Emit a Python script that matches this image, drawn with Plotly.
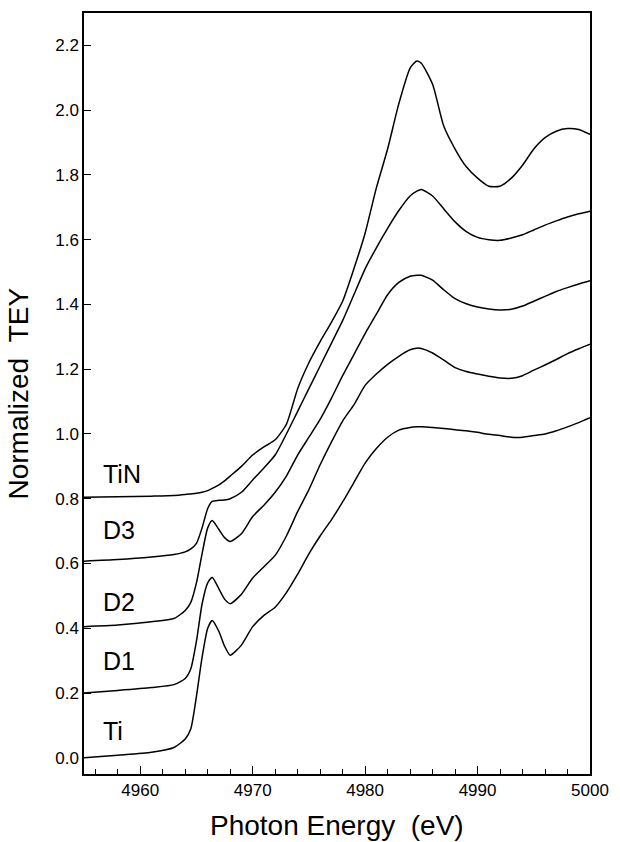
import plotly.graph_objects as go

energy = [4955, 4958, 4961, 4963, 4964, 4964.5, 4965, 4965.5, 4966, 4966.4, 4967, 4967.5,
          4968, 4969, 4970, 4971, 4972, 4973, 4974, 4975, 4976, 4977, 4978, 4979, 4980,
          4981, 4982, 4983, 4984, 4984.6, 4985, 4986, 4987, 4988, 4989, 4990, 4991, 4992,
          4993, 4994, 4995, 4996, 4997, 4998, 4999, 5000]

ti = [0.0, 0.008, 0.017, 0.032, 0.058, 0.09, 0.19, 0.31, 0.40, 0.424, 0.39, 0.345,
      0.317, 0.348, 0.405, 0.44, 0.465, 0.51, 0.567, 0.63, 0.685, 0.735, 0.79, 0.85, 0.91,
      0.955, 0.99, 1.012, 1.02, 1.022, 1.022, 1.02, 1.017, 1.013, 1.01, 1.005, 0.999, 0.995,
      0.99, 0.99, 0.995, 1.0, 1.01, 1.022, 1.035, 1.05]

d1 = [0.2, 0.208, 0.217, 0.226, 0.245, 0.275, 0.36, 0.475, 0.54, 0.557, 0.522, 0.49,
      0.476, 0.505, 0.555, 0.59, 0.625, 0.685, 0.76, 0.828, 0.905, 0.975, 1.04, 1.09, 1.15,
      1.185, 1.215, 1.24, 1.26, 1.265, 1.264, 1.25, 1.228, 1.205, 1.193, 1.185, 1.178, 1.173,
      1.172, 1.18, 1.197, 1.213, 1.23, 1.248, 1.263, 1.277]

d2 = [0.405, 0.41, 0.42, 0.43, 0.455, 0.48, 0.54, 0.63, 0.71, 0.733, 0.705, 0.68,
      0.668, 0.692, 0.745, 0.78, 0.82, 0.87, 0.935, 0.99, 1.045, 1.11, 1.18, 1.245, 1.31,
      1.37, 1.43, 1.468, 1.487, 1.49, 1.49, 1.475, 1.445, 1.418, 1.402, 1.392, 1.386, 1.383,
      1.385, 1.395, 1.41, 1.425, 1.44, 1.452, 1.463, 1.473]

d3 = [0.607, 0.612, 0.62, 0.628, 0.636, 0.645, 0.662, 0.71, 0.77, 0.792, 0.795, 0.796,
      0.8, 0.82, 0.858, 0.895, 0.935, 1.0, 1.07, 1.14, 1.21, 1.28, 1.35, 1.43, 1.51,
      1.575, 1.635, 1.69, 1.735, 1.75, 1.755, 1.735, 1.695, 1.655, 1.625, 1.607, 1.6, 1.598,
      1.605, 1.615, 1.63, 1.645, 1.658, 1.67, 1.68, 1.688]

tin = [0.805, 0.806, 0.808, 0.81, 0.813, 0.815, 0.817, 0.82, 0.825, 0.832, 0.843, 0.855,
       0.87, 0.9, 0.935, 0.96, 0.982, 1.03, 1.14, 1.22, 1.285, 1.345, 1.41, 1.51, 1.62,
       1.76, 1.88, 2.02, 2.13, 2.152, 2.145, 2.08, 1.95, 1.88, 1.825, 1.79, 1.765, 1.765,
       1.79, 1.83, 1.88, 1.915, 1.935, 1.943, 1.94, 1.925]

series_names = ["Ti", "D1", "D2", "D3", "TiN"]
series_values = [ti, d1, d2, d3, tin]
label_y = [0.082, 0.30, 0.482, 0.704, 0.876]

FONT = "Liberation Sans, Arial, Helvetica, sans-serif"

fig = go.Figure()
for name, vals in zip(series_names, series_values):
    fig.add_trace(go.Scatter(x=energy, y=vals, mode="lines", name=name,
                             line=dict(color="black", width=1.5, shape="spline", smoothing=0.6),
                             showlegend=False))

for name, ly in zip(series_names, label_y):
    fig.add_annotation(x=4956.5, y=ly, text=name, showarrow=False, xanchor="left",
                       yanchor="middle", font=dict(family=FONT, size=25, color="black"))

fig.add_annotation(xref="paper", yref="paper", x=0, y=0.5, xshift=-66, text="Normalized\u00a0\u00a0TEY",
                   textangle=-90, showarrow=False, xanchor="center", yanchor="middle",
                   font=dict(family=FONT, size=28, color="black"))
fig.add_annotation(xref="paper", yref="paper", x=0.5, y=0, yshift=-51, text="Photon Energy\u00a0\u00a0(eV)",
                   showarrow=False, xanchor="center", yanchor="middle",
                   font=dict(family=FONT, size=28, color="black"))

fig.update_layout(
    width=620, height=842,
    margin=dict(l=84, r=20, t=11, b=68),
    plot_bgcolor="white", paper_bgcolor="white",
    font=dict(family=FONT, color="black"),
)
fig.update_xaxes(range=[4955, 5000], tickvals=[4960, 4970, 4980, 4990, 5000],
                 ticks="inside", ticklen=8, tickwidth=1.3, tickcolor="black",
                 minor=dict(dtick=2, tick0=4960, ticks="inside", ticklen=5, tickwidth=1, tickcolor="black"),
                 showline=True, linecolor="black", linewidth=1.5, mirror=True,
                 showgrid=False, zeroline=False, tickfont=dict(size=17, family=FONT, color="black"))
fig.update_yaxes(range=[-0.05, 2.3], tickvals=[0.0, 0.2, 0.4, 0.6, 0.8, 1.0, 1.2, 1.4, 1.6, 1.8, 2.0, 2.2],
                 tickformat=".1f",
                 ticks="inside", ticklen=7, tickwidth=1.3, tickcolor="black",
                 showline=True, linecolor="black", linewidth=1.5, mirror=True,
                 showgrid=False, zeroline=False, tickfont=dict(size=17, family=FONT, color="black"))

fig.write_html("out.html")
